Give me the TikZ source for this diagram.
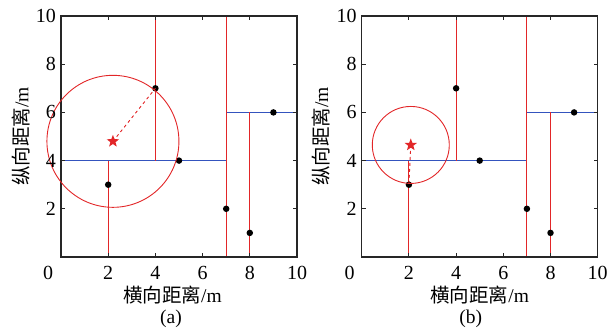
\documentclass[tikz,border=0pt]{standalone}
\usepackage{fontspec}
\setmainfont{Liberation Serif}
\newfontfamily\cjkfont{Noto Sans CJK SC}
\usetikzlibrary{shapes.geometric}

\begin{document}
\begin{tikzpicture}[
  x=23.6pt, y=24.1pt,
  frame/.style={draw=black!85, line width=1.2pt},
  axtick/.style={draw=black!85, line width=1pt},
  splitv/.style={draw=cutred, line width=1pt},
  splith/.style={draw=cutblue, line width=1pt},
  reach/.style={draw=cutred, line width=0.9pt},
  sample/.style={circle, fill=black, inner sep=0pt, minimum size=6.5pt},
  query/.style={star, star points=5, star point ratio=2.4, fill=cutred,
    inner sep=0pt, minimum size=13pt},
  ticklabel/.style={font=\rmfamily\fontsize{20}{22}\selectfont, inner sep=0pt},
  axislabel/.style={font=\rmfamily\fontsize{19.5}{21}\selectfont, inner sep=0pt}
]
\definecolor{cutred}{RGB}{226,38,40}
\definecolor{cutblue}{RGB}{52,84,190}

\useasboundingbox (0,0) rectangle (609pt,333pt);

% Panel (a): wide search circle
\begin{scope}[shift={(61pt,76pt)}]
  \draw[splith] (0,4) -- (7,4);
  \draw[splith] (7,6) -- (10,6);
  \draw[splitv] (2,0) -- (2,4);
  \draw[splitv] (4,4) -- (4,10);
  \draw[splitv] (7,0) -- (7,10);
  \draw[splitv] (8,0) -- (8,6);
  \draw[frame] (0,0) rectangle (10,10);
  \foreach \t in {2,4,6,8} {
    \draw[axtick] (\t,0) -- ++(0,4pt);
    \draw[axtick] (\t,10) -- ++(0,-4pt);
    \draw[axtick] (0,\t) -- ++(4pt,0);
    \draw[axtick] (10,\t) -- ++(-4pt,0);
  }
  \node[sample] (a1) at (2,3) {};
  \node[sample] (a2) at (4,7) {};
  \node[sample] (a3) at (5,4) {};
  \node[sample] (a4) at (7,2) {};
  \node[sample] (a5) at (8,1) {};
  \node[sample] (a6) at (9,6) {};
  \coordinate (qa) at (2.2,4.8);
  \draw[reach] (qa) circle[radius=66pt];
  \draw[reach, dashed] (qa) -- (a2.center);
  \node[query] (stara) at (qa) {};
  % tick labels
  \foreach \t in {2,4,6,8,10} {
    \node[ticklabel] (ax\t) at ([yshift=-16pt]\t,0) {\t};
    \node[ticklabel, anchor=east] (ay\t) at ([xshift=-5pt]0,\t) {\t};
  }
  \node[ticklabel] (a0) at ([xshift=-13pt,yshift=-16pt]0,0) {0};
  \node[axislabel] (axa) at ([xshift=111.5pt,yshift=-38pt]0,0) {{\cjkfont 横向距离}/m};
  \node[axislabel, rotate=90] (aya) at ([xshift=-40pt]0,5) {{\cjkfont 纵向距离}/m};
  \node[axislabel] (capa) at ([xshift=110pt,yshift=-62pt]0,0) {(a)};
\end{scope}

% Panel (b): shrunk search circle
\begin{scope}[shift={(361.7pt,76pt)}]
  \draw[splith] (0,4) -- (7,4);
  \draw[splith] (7,6) -- (10,6);
  \draw[splitv] (2,0) -- (2,4);
  \draw[splitv] (4,4) -- (4,10);
  \draw[splitv] (7,0) -- (7,10);
  \draw[splitv] (8,0) -- (8,6);
  \draw[frame] (0,0) rectangle (10,10);
  \foreach \t in {2,4,6,8} {
    \draw[axtick] (\t,0) -- ++(0,4pt);
    \draw[axtick] (\t,10) -- ++(0,-4pt);
    \draw[axtick] (0,\t) -- ++(4pt,0);
    \draw[axtick] (10,\t) -- ++(-4pt,0);
  }
  \node[sample] (b1) at (2,3) {};
  \node[sample] (b2) at (4,7) {};
  \node[sample] (b3) at (5,4) {};
  \node[sample] (b4) at (7,2) {};
  \node[sample] (b5) at (8,1) {};
  \node[sample] (b6) at (9,6) {};
  \coordinate (qb) at (2.08,4.65);
  \draw[reach] (qb) circle[radius=38.5pt];
  \draw[reach, dashed] (qb) -- (b1.center);
  \node[query] (starb) at (qb) {};
  % tick labels
  \foreach \t in {2,4,6,8,10} {
    \node[ticklabel] (bx\t) at ([yshift=-16pt]\t,0) {\t};
    \node[ticklabel, anchor=east] (by\t) at ([xshift=-5pt]0,\t) {\t};
  }
  \node[ticklabel] (b0) at ([xshift=-12pt,yshift=-16pt]0,0) {0};
  \node[axislabel] (axb) at ([xshift=118pt,yshift=-38pt]0,0) {{\cjkfont 横向距离}/m};
  \node[axislabel, rotate=90] (ayb) at ([xshift=-41pt]0,5) {{\cjkfont 纵向距离}/m};
  \node[axislabel] (capb) at ([xshift=109pt,yshift=-62pt]0,0) {(b)};
\end{scope}
\end{tikzpicture}
\end{document}
